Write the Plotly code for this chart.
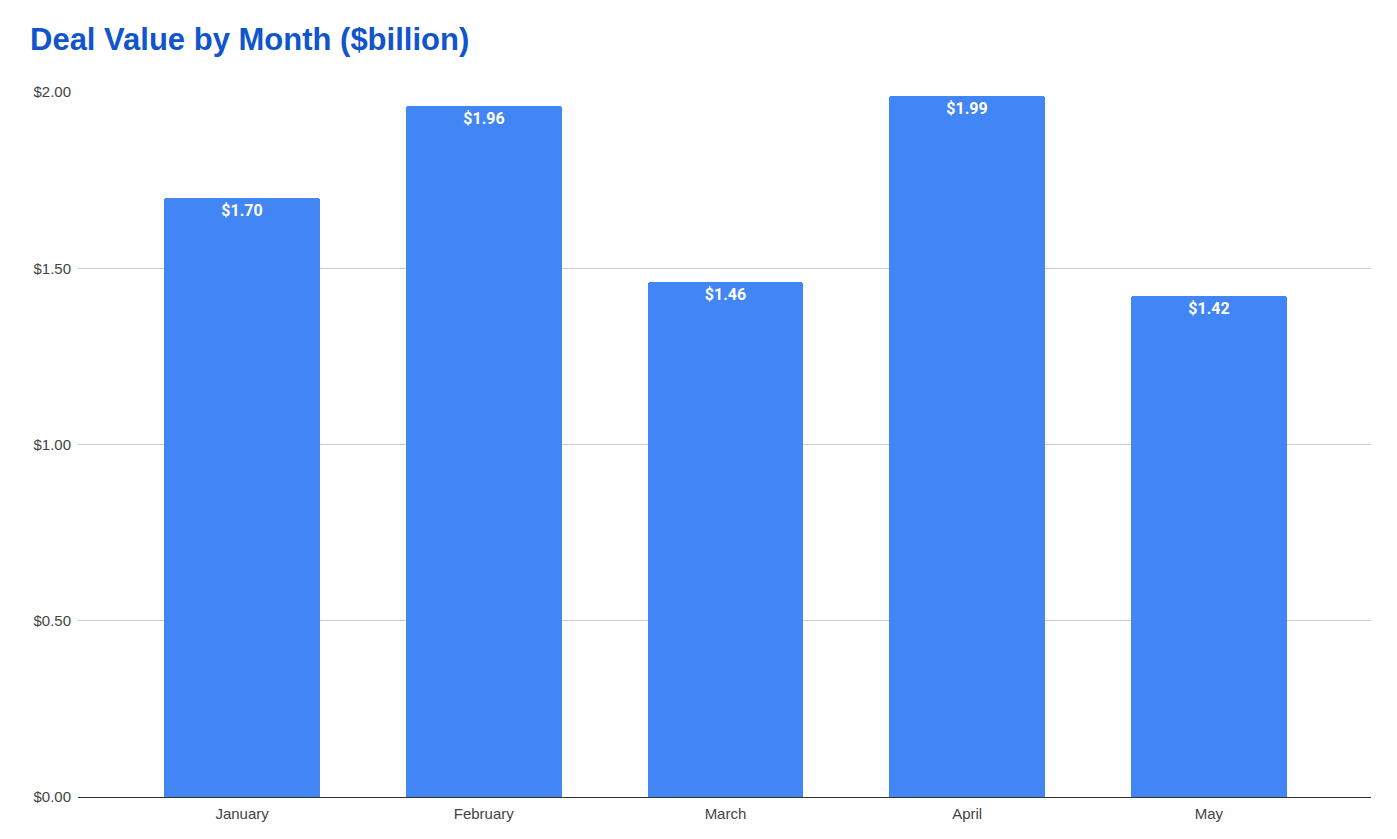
import plotly.graph_objects as go

months = ["January", "February", "March", "April", "May"]
deal_values = [1.70, 1.96, 1.46, 1.99, 1.42]
y_ticks = [0.0, 0.5, 1.0, 1.5, 2.0]
y_tick_labels = ["$0.00", "$0.50", "$1.00", "$1.50", "$2.00"]

fig = go.Figure()
fig.add_trace(go.Bar(
    x=list(range(len(months))),
    y=deal_values,
    width=0.645,
    marker=dict(color="#4285F4", cornerradius=3, line=dict(width=0)),
    text=[f"${v:.2f}" for v in deal_values],
    textposition="inside",
    insidetextanchor="end",
    textangle=0,
    textfont=dict(family="Roboto, Arial, sans-serif", size=16, color="white", weight="bold"),
    hoverinfo="skip",
))

fig.update_layout(
    width=1397, height=839,
    margin=dict(l=78, r=26, t=92, b=42),
    paper_bgcolor="white", plot_bgcolor="white",
    showlegend=False,
    title=dict(
        text="<b>Deal Value by Month ($billion)</b>",
        x=30/1397, xanchor="left", xref="container",
        y=1 - 39/839, yanchor="middle", yref="container",
        font=dict(family="Liberation Sans, Arial, sans-serif", size=31, color="#1155CC"),
    ),
    xaxis=dict(
        range=[-0.679, 4.671],
        tickvals=list(range(len(months))),
        ticktext=months,
        showgrid=False,
        showline=True, linecolor="#333333", linewidth=1,
        ticks="", ticklabelstandoff=3,
        tickfont=dict(family="Liberation Sans, Arial, sans-serif", size=15, color="#444444"),
        fixedrange=True,
    ),
    yaxis=dict(
        range=[0, 2.0],
        tickvals=y_ticks,
        ticktext=y_tick_labels,
        showgrid=True, gridcolor="#cccccc", gridwidth=1,
        zeroline=False,
        ticks="", ticklabelstandoff=6,
        tickfont=dict(family="Liberation Sans, Arial, sans-serif", size=15, color="#444444"),
        fixedrange=True,
    ),
    bargap=0,
)

fig.write_html("out.html")
